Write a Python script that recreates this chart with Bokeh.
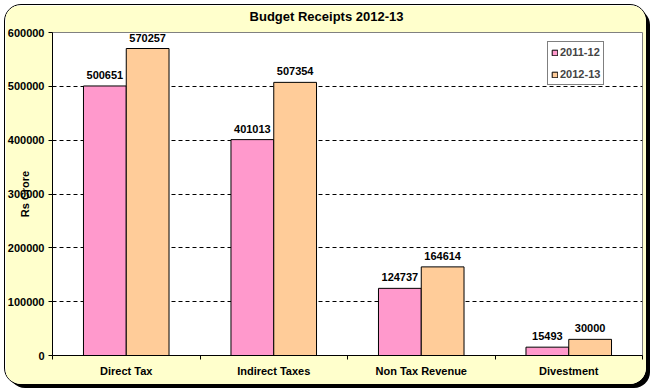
from bokeh.plotting import figure
from bokeh.models import ColumnDataSource, Range1d, FixedTicker, Label
from bokeh.transform import dodge
from bokeh.core.properties import value
from bokeh.embed import file_html
from bokeh.resources import INLINE

# ---- data ----
categories = ["Direct Tax", "Indirect Taxes", "Non Tax Revenue", "Divestment"]
series_names = ["2011-12", "2012-13"]
values_2011_12 = [500651, 401013, 124737, 15493]
values_2012_13 = [570257, 507354, 164614, 30000]
y_ticks = [0, 100000, 200000, 300000, 400000, 500000, 600000]
title_text = "Budget Receipts 2012-13"
y_axis_title = "Rs Crore"

FONT = "Liberation Sans"
PINK = "#FF99CC"
ORANGE = "#FFCC99"
PANEL = "#FFFFCC"

positions = list(range(len(categories)))
source = ColumnDataSource(dict(
    x=positions,
    a=values_2011_12,
    b=values_2012_13,
    a_lbl=[str(v) for v in values_2011_12],
    b_lbl=[str(v) for v in values_2012_13],
))

p = figure(width=641, height=379, output_backend="svg", toolbar_location=None,
           x_range=Range1d(-0.5, len(categories) - 0.5),
           y_range=Range1d(y_ticks[0], y_ticks[-1]),
           min_border_left=47, min_border_right=4, min_border_top=27, min_border_bottom=29,
           background_fill_color="white", border_fill_color=PANEL,
           outline_line_color="#808080", outline_line_width=1)
p.margin = (5, 0, 0, 5)
p.styles = {"border-radius": "16px", "box-shadow": "4px 4px 0px 0px #000000",
            "overflow": "hidden", "outline": "1px solid #000000"}

off = 0.145
bw = 0.29
p.vbar(x=dodge("x", -off, range=p.x_range), top="a", width=bw, source=source,
       fill_color=PINK, line_color="black", line_width=1, legend_label=series_names[0])
p.vbar(x=dodge("x", off, range=p.x_range), top="b", width=bw, source=source,
       fill_color=ORANGE, line_color="black", line_width=1, legend_label=series_names[1])

for col, lbl, o in (("a", "a_lbl", -off), ("b", "b_lbl", off)):
    p.text(x=dodge("x", o, range=p.x_range), y=col, text=lbl, source=source,
           text_align="center", text_baseline="bottom", y_offset=-7,
           text_font=value(FONT), text_font_style="bold", text_font_size="11px",
           text_color="black")

# axes
xa = p.xaxis[0]
xa.ticker = FixedTicker(ticks=positions,
                        minor_ticks=[i - 0.5 for i in range(len(categories) + 1)])
xa.major_label_overrides = {i: c for i, c in enumerate(categories)}
xa.major_tick_out = 0
xa.major_tick_in = 0
xa.minor_tick_out = 4
xa.minor_tick_in = 0
xa.minor_tick_line_color = "black"
xa.axis_line_color = "black"
xa.major_label_standoff = 5
xa.major_label_text_font = FONT
xa.major_label_text_font_style = "bold"
xa.major_label_text_font_size = "11px"
xa.major_label_text_color = "black"

ya = p.yaxis[0]
ya.ticker = FixedTicker(ticks=y_ticks)
ya.formatter.use_scientific = False
ya.major_tick_out = 4
ya.major_tick_in = 0
ya.minor_tick_line_color = None
ya.axis_line_color = "black"
ya.major_tick_line_color = "black"
ya.major_label_standoff = 4
ya.major_label_text_font = FONT
ya.major_label_text_font_style = "bold"
ya.major_label_text_font_size = "11px"
ya.major_label_text_color = "black"
ya.axis_label = y_axis_title
ya.axis_label_standoff = -26
ya.axis_label_text_font = FONT
ya.axis_label_text_font_style = "bold"
ya.axis_label_text_font_size = "11px"
ya.axis_label_text_color = "black"

p.xgrid.grid_line_color = None
p.ygrid.ticker = FixedTicker(ticks=y_ticks[1:-1])
p.ygrid.grid_line_color = "black"
p.ygrid.grid_line_dash = "4 3"
p.ygrid.grid_line_width = 1

# title placed in the top panel
p.add_layout(Label(x=274, y=16, x_units="screen", y_units="screen", text=title_text,
                   text_align="center", text_baseline="middle", text_font=FONT,
                   text_font_style="bold", text_font_size="13px", text_color="black"),
             "above")

lg = p.legend[0]
lg.location = (495, 270)
lg.border_line_color = "black"
lg.border_line_width = 1
lg.background_fill_color = "white"
lg.background_fill_alpha = 1
lg.label_text_font = FONT
lg.label_text_font_style = "bold"
lg.label_text_font_size = "11px"
lg.glyph_width = 7
lg.glyph_height = 7
lg.label_height = 14
lg.label_standoff = 2
lg.spacing = 8
lg.padding = 3
lg.margin = 0

open("out.html", "w").write(file_html(p, INLINE))
